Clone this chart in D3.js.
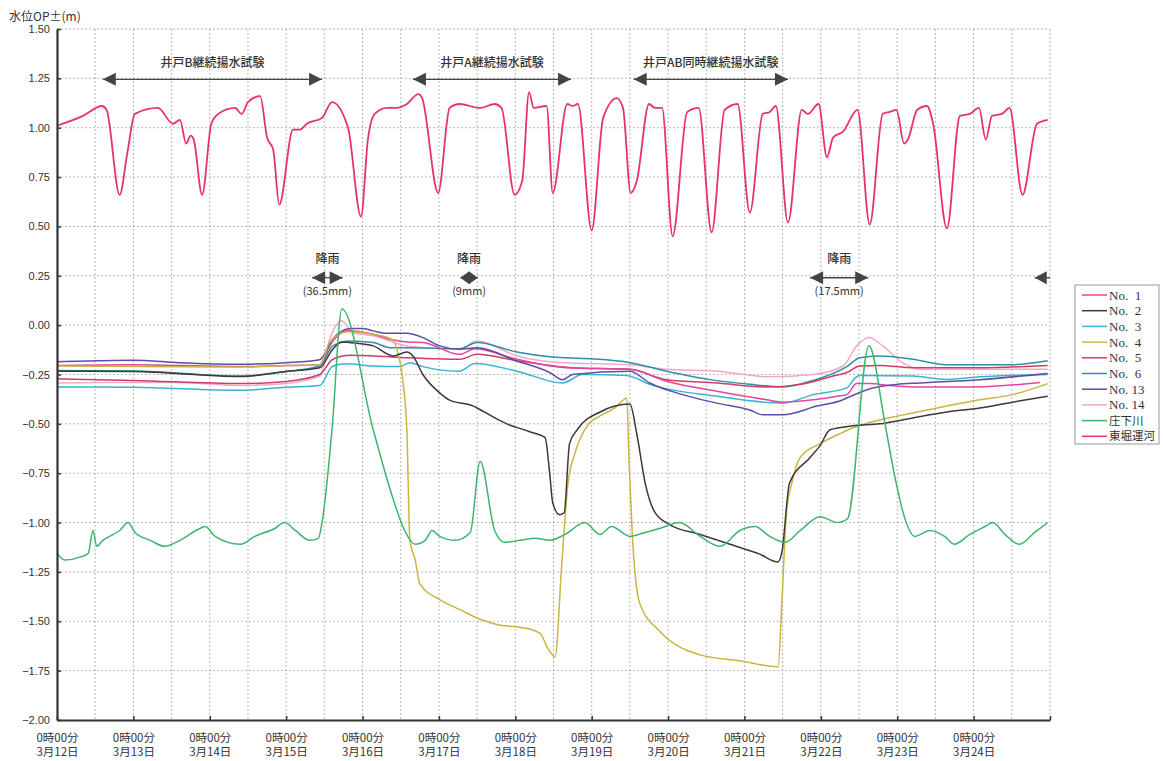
<!DOCTYPE html>
<html>
<head>
<meta charset="utf-8">
<script src="https://cdn.jsdelivr.net/npm/d3@7"></script>
<style>
  body { margin: 0; background: #fff; }
  text { fill: #333; }
</style>
</head>
<body>
<svg id="chart" width="1163" height="761"></svg>
<script>
// time is in days from 3/12 0:00, values in m
const dayLabels = ["3月12日", "3月13日", "3月14日", "3月15日", "3月16日", "3月17日", "3月18日",
  "3月19日", "3月20日", "3月21日", "3月22日", "3月23日", "3月24日"]
const timeLabel = "0時00分"
const yTicks = [1.5, 1.25, 1, 0.75, 0.5, 0.25, 0, -0.25, -0.5, -0.75, -1, -1.25, -1.5, -1.75, -2]

const seriesNames = ["No.  1", "No.  2", "No.  3", "No.  4", "No.  5", "No.  6", "No. 13", "No. 14", "庄下川", "東堀運河"]
const seriesColors = ["#e2449e", "#3a3a3a", "#38b4d6", "#cbb540", "#cf3d66", "#2f8eaa", "#5b4fa2", "#f3a8c9", "#3db56f", "#e6336a"]

const no1 = [[0,-0.204],[1.0,-0.20],[2.4,-0.21],[3.0,-0.205],[3.44,-0.20],[3.57,-0.105],[3.80,-0.029],[4.14,-0.046],
  [4.36,-0.071],[4.58,-0.085],[4.79,-0.088],[5.27,-0.148],[5.47,-0.12],[6.02,-0.173],[6.68,-0.216],[7.50,-0.224],
  [7.98,-0.284],[8.64,-0.335],[9.29,-0.378],[9.50,-0.39],[9.90,-0.378],[10.21,-0.36],[10.34,-0.352],[10.47,-0.296],
  [10.64,-0.296],[10.90,-0.306],[11.2,-0.313],[12.0,-0.313],[12.87,-0.29]]
const no2 = [[0,-0.233],[1.0,-0.235],[2.4,-0.26],[3.0,-0.235],[3.44,-0.216],[3.61,-0.122],[3.73,-0.085],[3.93,-0.092],
  [4.14,-0.105],[4.40,-0.156],[4.58,-0.136],[4.66,-0.156],[4.79,-0.25],[5.01,-0.343],[5.14,-0.38],[5.45,-0.41],
  [5.58,-0.437],[5.89,-0.50],[6.19,-0.54],[6.39,-0.57],[6.45,-0.75],[6.49,-0.90],[6.58,-0.96],[6.64,-0.95],
  [6.71,-0.60],[6.81,-0.53],[7.11,-0.44],[7.50,-0.40],[7.59,-0.55],[7.70,-0.80],[7.83,-0.95],[8.02,-1.01],
  [8.42,-1.06],[8.81,-1.11],[9.20,-1.16],[9.44,-1.20],[9.49,-1.15],[9.59,-0.80],[9.86,-0.67],[9.99,-0.61],
  [10.12,-0.53],[10.42,-0.51],[10.77,-0.50],[11.20,-0.47],[11.65,-0.44],[12.08,-0.42],[12.51,-0.39],[12.97,-0.36]]
const no3 = [[0,-0.313],[1.0,-0.315],[2.4,-0.33],[3.0,-0.315],[3.44,-0.306],[3.61,-0.207],[3.80,-0.196],[4.14,-0.207],
  [4.49,-0.21],[4.62,-0.19],[4.79,-0.21],[5.27,-0.233],[5.47,-0.194],[6.02,-0.233],[6.62,-0.293],[6.88,-0.25],
  [7.46,-0.255],[7.76,-0.30],[8.64,-0.36],[9.50,-0.395],[9.90,-0.352],[10.34,-0.318],[10.45,-0.267],[10.51,-0.255],
  [11.20,-0.258],[11.65,-0.275],[12.08,-0.262],[12.97,-0.25]]
const no4 = [[0,-0.207],[2.4,-0.212],[3.0,-0.205],[3.44,-0.20],[3.57,-0.088],[3.80,-0.034],[4.14,-0.046],[4.38,-0.071],
  [4.45,-0.122],[4.53,-0.29],[4.58,-0.53],[4.62,-1.09],[4.69,-1.19],[4.75,-1.31],[5.01,-1.39],[5.27,-1.44],
  [5.54,-1.49],[5.80,-1.52],[6.06,-1.53],[6.32,-1.56],[6.43,-1.64],[6.52,-1.68],[6.61,-1.2],[6.69,-0.8],
  [6.78,-0.65],[6.94,-0.51],[7.11,-0.46],[7.30,-0.42],[7.46,-0.37],[7.49,-0.7],[7.53,-1.05],[7.63,-1.41],
  [7.89,-1.55],[8.15,-1.63],[8.42,-1.67],[8.94,-1.70],[9.44,-1.73],[9.49,-1.4],[9.55,-0.95],[9.62,-0.8],
  [9.73,-0.67],[9.99,-0.60],[10.25,-0.55],[10.42,-0.52],[10.77,-0.48],[11.20,-0.445],[11.65,-0.41],[12.08,-0.378],
  [12.51,-0.352],[12.97,-0.296]]
const no5 = [[0,-0.272],[1.0,-0.28],[2.4,-0.296],[3.0,-0.285],[3.44,-0.25],[3.61,-0.173],[3.84,-0.153],[4.14,-0.156],
  [4.58,-0.165],[5.27,-0.173],[5.50,-0.148],[6.02,-0.18],[6.75,-0.216],[7.50,-0.224],[7.98,-0.276],[8.64,-0.293],
  [9.29,-0.313],[9.73,-0.30],[10.16,-0.258],[10.34,-0.24],[10.51,-0.207],[10.77,-0.204],[11.20,-0.216],
  [12.08,-0.216],[12.97,-0.204]]
const no6 = [[0,-0.23],[1.0,-0.232],[2.4,-0.258],[3.0,-0.235],[3.44,-0.207],[3.61,-0.105],[3.84,-0.08],[4.14,-0.088],
  [4.36,-0.114],[4.58,-0.114],[5.27,-0.119],[5.50,-0.088],[6.02,-0.136],[6.45,-0.16],[6.98,-0.17],[7.50,-0.19],
  [7.98,-0.233],[8.55,-0.276],[9.07,-0.30],[9.50,-0.313],[9.90,-0.28],[10.34,-0.21],[10.51,-0.165],[10.77,-0.156],
  [11.20,-0.173],[11.65,-0.20],[12.5,-0.20],[12.97,-0.18]]
const no13 = [[0,-0.185],[0.56,-0.18],[1.0,-0.178],[1.6,-0.19],[2.4,-0.198],[3.0,-0.19],[3.44,-0.175],[3.47,-0.165],
  [3.61,-0.07],[3.84,-0.017],[4.0,-0.017],[4.14,-0.029],[4.32,-0.041],[4.58,-0.041],[4.79,-0.063],[5.01,-0.105],
  [5.27,-0.122],[5.50,-0.115],[6.02,-0.182],[6.45,-0.24],[6.62,-0.276],[6.75,-0.25],[7.50,-0.233],[7.76,-0.293],
  [8.19,-0.352],[8.64,-0.395],[9.07,-0.43],[9.24,-0.454],[9.50,-0.454],[9.95,-0.41],[10.29,-0.378],[10.34,-0.369],
  [10.68,-0.318],[10.99,-0.30],[11.3,-0.293],[12.08,-0.276],[12.97,-0.245]]
const no14 = [[0,-0.293],[0.56,-0.29],[1.6,-0.29],[2.4,-0.306],[3.0,-0.295],[3.44,-0.258],[3.57,-0.071],[3.73,0.022],
  [3.87,-0.037],[4.14,-0.054],[4.36,-0.08],[4.58,-0.105],[5.27,-0.122],[5.50,-0.08],[6.02,-0.156],[6.62,-0.19],
  [7.50,-0.20],[7.98,-0.224],[8.64,-0.233],[9.33,-0.262],[9.90,-0.25],[10.29,-0.207],[10.47,-0.105],[10.63,-0.063],
  [10.81,-0.105],[11.07,-0.19],[11.30,-0.224],[12.97,-0.224]]
const shoge = [[0,-1.155],[0.10,-1.19],[0.30,-1.175],[0.41,-1.155],[0.47,-1.04],[0.52,-1.12],[0.60,-1.09],[0.69,-1.07],
  [0.82,-1.04],[0.93,-1.0],[1.02,-1.05],[1.22,-1.09],[1.41,-1.12],[1.61,-1.09],[1.87,-1.03],[1.94,-1.02],
  [2.07,-1.07],[2.40,-1.11],[2.59,-1.07],[2.85,-1.03],[2.98,-1.0],[3.12,-1.04],[3.31,-1.09],[3.42,-1.08],
  [3.47,-1.0],[3.60,-0.53],[3.73,0.082],[4.14,-0.53],[4.40,-0.88],[4.55,-1.04],[4.69,-1.11],[4.82,-1.09],
  [4.91,-1.04],[5.01,-1.07],[5.21,-1.09],[5.41,-1.05],[5.54,-0.69],[5.73,-1.04],[5.86,-1.10],[6.06,-1.09],
  [6.26,-1.08],[6.45,-1.09],[6.65,-1.06],[6.91,-1.0],[7.11,-1.06],[7.26,-1.02],[7.50,-1.07],[7.70,-1.05],
  [7.89,-1.03],[8.15,-1.0],[8.42,-1.07],[8.68,-1.12],[8.94,-1.04],[9.14,-1.02],[9.33,-1.07],[9.53,-1.10],
  [9.73,-1.04],[9.99,-0.97],[10.22,-1.0],[10.35,-0.98],[10.63,-0.105],[10.84,-0.50],[10.97,-0.77],[11.10,-0.98],
  [11.23,-1.07],[11.43,-1.04],[11.62,-1.07],[11.75,-1.11],[11.95,-1.06],[12.15,-1.02],[12.25,-1.0],[12.41,-1.06],
  [12.60,-1.11],[12.80,-1.05],[12.97,-1.0]]
const tohori = [[0,1.01],[0.34,1.06],[0.59,1.11],[0.65,1.09],[0.82,0.66],[0.92,0.87],[1.02,1.07],[1.32,1.10],
  [1.52,1.02],[1.61,1.04],[1.69,0.92],[1.75,0.96],[1.79,0.94],[1.90,0.66],[2.02,1.02],[2.11,1.07],[2.33,1.10],
  [2.42,1.07],[2.50,1.13],[2.66,1.16],[2.75,0.95],[2.83,0.89],[2.91,0.61],[3.09,0.99],[3.18,0.99],[3.27,1.02],
  [3.47,1.05],[3.60,1.13],[3.81,1.00],[3.98,0.55],[4.07,0.94],[4.16,1.07],[4.32,1.10],[4.45,1.10],[4.58,1.12],
  [4.73,1.17],[4.78,1.15],[4.99,0.67],[5.14,1.10],[5.27,1.12],[5.54,1.10],[5.73,1.12],[5.82,1.10],[5.99,0.66],
  [6.09,0.73],[6.18,1.18],[6.24,1.10],[6.41,1.11],[6.49,0.67],[6.68,1.12],[6.75,1.11],[6.82,1.12],[7.00,0.48],
  [7.15,1.05],[7.33,1.15],[7.41,1.10],[7.51,0.67],[7.59,0.73],[7.75,1.12],[7.83,1.10],[7.92,1.10],[8.06,0.45],
  [8.25,1.08],[8.40,1.10],[8.57,0.47],[8.74,1.09],[8.91,1.12],[9.07,0.57],[9.24,1.07],[9.33,1.08],[9.41,1.11],
  [9.57,0.52],[9.75,1.09],[9.83,1.07],[9.97,1.12],[10.08,0.85],[10.16,0.95],[10.29,0.98],[10.48,1.09],[10.64,0.51],
  [10.81,1.07],[10.90,1.08],[10.99,1.09],[11.09,0.92],[11.14,0.94],[11.26,1.09],[11.39,1.11],[11.47,1.02],
  [11.65,0.49],[11.82,1.06],[11.95,1.07],[12.07,1.10],[12.16,0.94],[12.24,1.06],[12.37,1.07],[12.47,1.10],
  [12.64,0.66],[12.83,1.02],[12.97,1.04]]

// annotation spans: text, from day, to day
const pumpTests = [["井戸B継続揚水試験", 0.60, 3.47], ["井戸A継続揚水試験", 4.66, 6.73], ["井戸AB同時継続揚水試験", 7.55, 9.57]]
const rains = [["(36.5mm)", 3.34, 3.74], ["(9mm)", 5.28, 5.51], ["(17.5mm)", 9.86, 10.62]]

const allSeries = [no1, no2, no3, no4, no5, no6, no13, no14, shoge, tohori]

const svg = d3.select("#chart")
const font = "'Noto Sans CJK JP', 'Liberation Sans', sans-serif"

const x = d3.scaleLinear().domain([0, 13]).range([57, 1050])
const y = d3.scaleLinear().domain([-2, 1.5]).range([720, 29])

// grid
svg.append("g")
  .selectAll("line")
  .data(d3.range(0.5, 13.01, 0.5))
  .join("line")
  .attr("x1", d => x(d)).attr("x2", d => x(d))
  .attr("y1", y(1.5)).attr("y2", y(-2))
  .attr("stroke", "#b0b0b0")
  .attr("stroke-width", 0.9)
  .attr("stroke-dasharray", "2,2")

svg.append("g")
  .selectAll("line")
  .data(yTicks.filter(v => v > -2))
  .join("line")
  .attr("x1", x(0)).attr("x2", x(13))
  .attr("y1", d => y(d)).attr("y2", d => y(d))
  .attr("stroke", "#b0b0b0")
  .attr("stroke-width", 0.9)
  .attr("stroke-dasharray", "2,2")

// lines
const line = d3.line()
  .x(d => x(d[0]))
  .y(d => y(d[1]))
  .curve(d3.curveMonotoneX)

const drawOrder = [7, 2, 5, 4, 0, 6, 3, 1, 9, 8]
svg.append("g")
  .selectAll("path")
  .data(drawOrder)
  .join("path")
  .attr("fill", "none")
  .attr("stroke", i => seriesColors[i])
  .attr("stroke-width", i => i === 9 ? 1.8 : 1.5)
  .attr("stroke-linejoin", "round")
  .attr("d", i => line(allSeries[i]))

// axes
const yAxis = g => g
  .attr("transform", `translate(${x(0)},0)`)
  .call(d3.axisLeft(y).tickValues(yTicks).tickFormat(d3.format(".2f")).tickSizeInner(-4).tickSizeOuter(0).tickPadding(7))
  .call(g => g.select(".domain").attr("stroke", "#333").attr("stroke-width", 2.2))
  .call(g => g.selectAll(".tick line").attr("stroke", "#333").attr("stroke-width", 1.5))
  .call(g => g.selectAll(".tick text").attr("font-family", "'Liberation Sans', Arial, sans-serif").attr("font-size", 11).attr("fill", "#333"))

const xAxis = g => g
  .attr("transform", `translate(0,${y(-2)})`)
  .call(d3.axisBottom(x).tickValues(d3.range(0, 14)).tickFormat("").tickSizeInner(-4).tickSizeOuter(0))
  .call(g => g.select(".domain").attr("stroke", "#333").attr("stroke-width", 2.2))
  .call(g => g.selectAll(".tick line").attr("stroke", "#333").attr("stroke-width", 1.5))
  .call(g => g.selectAll(".tick text")
    .attr("y", null).attr("dy", null)
    .attr("font-family", font).attr("font-size", 11.5).attr("fill", "#333")
    .filter(d => d < 13)
    .call(t => t.append("tspan").attr("x", 0).attr("y", 22).text(timeLabel))
    .call(t => t.append("tspan").attr("x", 0).attr("y", 36).text(d => dayLabels[d])))

svg.append("g").call(yAxis)
svg.append("g").call(xAxis)

svg.append("text")
  .attr("x", 9).attr("y", 21)
  .attr("font-family", font).attr("font-size", 12)
  .text("水位OP±(m)")

// arrows
const arrowColor = "#444"
function head(g, tipX, tipY, dir, len, half) {
  g.append("path")
    .attr("d", `M${tipX},${tipY}L${tipX - dir * len},${tipY - half}L${tipX - dir * len},${tipY + half}Z`)
    .attr("fill", arrowColor)
}
function arrow(g, from, to, v, len, half) {
  const x1 = x(from), x2 = x(to), yy = y(v)
  g.append("line").attr("x1", x1).attr("x2", x2).attr("y1", yy).attr("y2", yy)
    .attr("stroke", arrowColor).attr("stroke-width", 1.3)
  head(g, x1, yy, -1, len, half)
  head(g, x2, yy, 1, len, half)
}

const ann = svg.append("g")
pumpTests.forEach(([label, from, to]) => {
  arrow(ann, from, to, 1.245, 13, 6.5)
  ann.append("text")
    .attr("x", x((from + to) / 2)).attr("y", y(1.305))
    .attr("text-anchor", "middle")
    .attr("font-family", font).attr("font-size", 12).attr("font-weight", 500)
    .text(label)
})

rains.forEach(([label, from, to]) => {
  const len = (x(to) - x(from)) < 30 ? 9 : 13
  arrow(ann, from, to, 0.24, len, 6.5)
  const cx = x((from + to) / 2)
  ann.append("text")
    .attr("x", cx).attr("y", y(0.315))
    .attr("text-anchor", "middle")
    .attr("font-family", font).attr("font-size", 12).attr("font-weight", 500)
    .text("降雨")
  ann.append("text")
    .attr("x", cx).attr("y", y(0.155))
    .attr("text-anchor", "middle")
    .attr("font-family", font).attr("font-size", 11)
    .text(label)
})
// rain continuing past the right edge
ann.append("line").attr("x1", x(12.8)).attr("x2", x(13)).attr("y1", y(0.24)).attr("y2", y(0.24))
  .attr("stroke", arrowColor).attr("stroke-width", 1.3)
head(ann, x(12.8), y(0.24), -1, 12, 6.5)

// legend
const legend = svg.append("g").attr("transform", "translate(1075,285)")
legend.append("rect")
  .attr("width", 84).attr("height", 159)
  .attr("fill", "#fff").attr("stroke", "#999").attr("stroke-width", 1)
const item = legend.selectAll("g")
  .data(seriesNames)
  .join("g")
  .attr("transform", (d, i) => `translate(0,${10 + i * 15.7})`)
item.append("line")
  .attr("x1", 7).attr("x2", 32)
  .attr("stroke", (d, i) => seriesColors[i]).attr("stroke-width", 1.5)
item.append("text")
  .attr("x", 34).attr("dy", "0.35em")
  .attr("font-family", "'Liberation Serif', 'Noto Sans CJK JP', serif")
  .attr("font-size", d => d.startsWith("No") ? 13 : 11.5)
  .style("white-space", "pre")
  .text(d => d)
</script>
</body>
</html>
